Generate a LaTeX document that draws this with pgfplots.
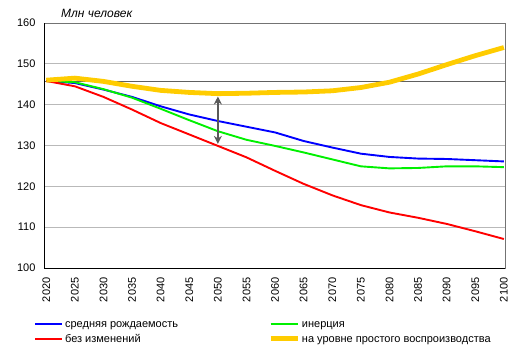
\documentclass[border=0pt]{standalone}
\usepackage{fontspec}
\setmainfont{Liberation Sans}
\usepackage{pgfplots}
\pgfplotsset{compat=1.18}
\usepackage{pgfplotstable}
\usetikzlibrary{arrows.meta}
\definecolor{lineblue}{RGB}{0,0,255}
\definecolor{linegreen}{RGB}{0,240,0}
\definecolor{linered}{RGB}{255,0,0}
\definecolor{lineyel}{RGB}{255,204,0}
\newcommand\lstrut{\rule[-4.3pt]{0pt}{13.8pt}}
\pgfplotstableread{
year blue green red yellow
2020 145.8 145.8 145.8 146.0
2025 145.3 145.5 144.5 146.5
2030 143.7 143.8 141.9 145.7
2035 141.9 141.7 138.8 144.5
2040 139.6 139.0 135.5 143.5
2045 137.6 136.2 132.7 143.0
2050 136.0 133.5 129.9 142.7
2055 134.6 131.4 127.1 142.8
2060 133.2 129.9 123.8 143.0
2065 131.1 128.3 120.6 143.1
2070 129.5 126.6 117.8 143.4
2075 128.0 124.9 115.4 144.2
2080 127.2 124.4 113.6 145.5
2085 126.8 124.5 112.3 147.5
2090 126.7 124.9 110.8 149.8
2095 126.4 124.9 109.0 152.0
2100 126.1 124.7 107.1 154.0
}\datatable
\begin{document}
\begin{tikzpicture}
\path[use as bounding box] (-44pt,-89pt) rectangle (475pt,268pt);
\begin{axis}[
  at={(0,0)}, anchor=south west,
  scale only axis, width=461pt, height=245pt,
  xmin=2019.6, xmax=2100.2, ymin=100, ymax=160,
  xtick={2020,2025,...,2100}, ytick={100,110,...,160},
  ymajorgrids, grid style={gray!55, line width=0.8pt},
  major tick length=0pt,
  axis line style={gray!90!black, line width=0.8pt},
  /pgf/number format/1000 sep={},
  /pgf/number format/assume math mode=true,
  tick label style={font=\fontsize{11}{13}\selectfont},
  x tick label style={rotate=90, anchor=east},
  xticklabel shift=6pt, yticklabel shift=5pt,
  legend columns=2,
  legend cell align=left,
  legend style={at={(axis description cs:0,0)}, anchor=north west,
    xshift=-13pt, yshift=-46pt, draw=none, fill=none,
    font=\fontsize{11}{13}\selectfont,
    /tikz/column 2/.style={column sep=88pt}},
  legend image code/.code={\draw[#1] plot coordinates {(0pt,0pt) (27pt,0pt)};},
]
\draw[gray!75!black, line width=1pt] (axis cs:2019.6,145.6) -- (axis cs:2100.2,145.6);
\addplot[color=lineblue, line width=1.9pt] table[x=year,y=blue] {\datatable};
\addlegendentry{\lstrut средняя рождаемость}
\addplot[color=linegreen, line width=1.9pt] table[x=year,y=green] {\datatable};
\addlegendentry{\lstrut инерция}
\addplot[color=linered, line width=1.9pt] table[x=year,y=red] {\datatable};
\addlegendentry{\lstrut без изменений}
\addplot[color=lineyel, line width=4.8pt] table[x=year,y=yellow] {\datatable};
\addlegendentry{\lstrut на уровне простого воспроизводства}
\draw[gray!70!black, line width=1.3pt, {Stealth[length=8pt,width=8pt]}-{Stealth[length=8pt,width=8pt]}] (axis cs:2050,142.0) -- (axis cs:2050,130.4);
\draw[black, line width=1pt] (rel axis cs:0,1) -- (rel axis cs:0,0) -- (rel axis cs:1,0);
\end{axis}
\node[anchor=west, font=\itshape\fontsize{12}{14}\selectfont, inner sep=0pt] at (17pt,255pt) {Млн человек};
\end{tikzpicture}
\end{document}
